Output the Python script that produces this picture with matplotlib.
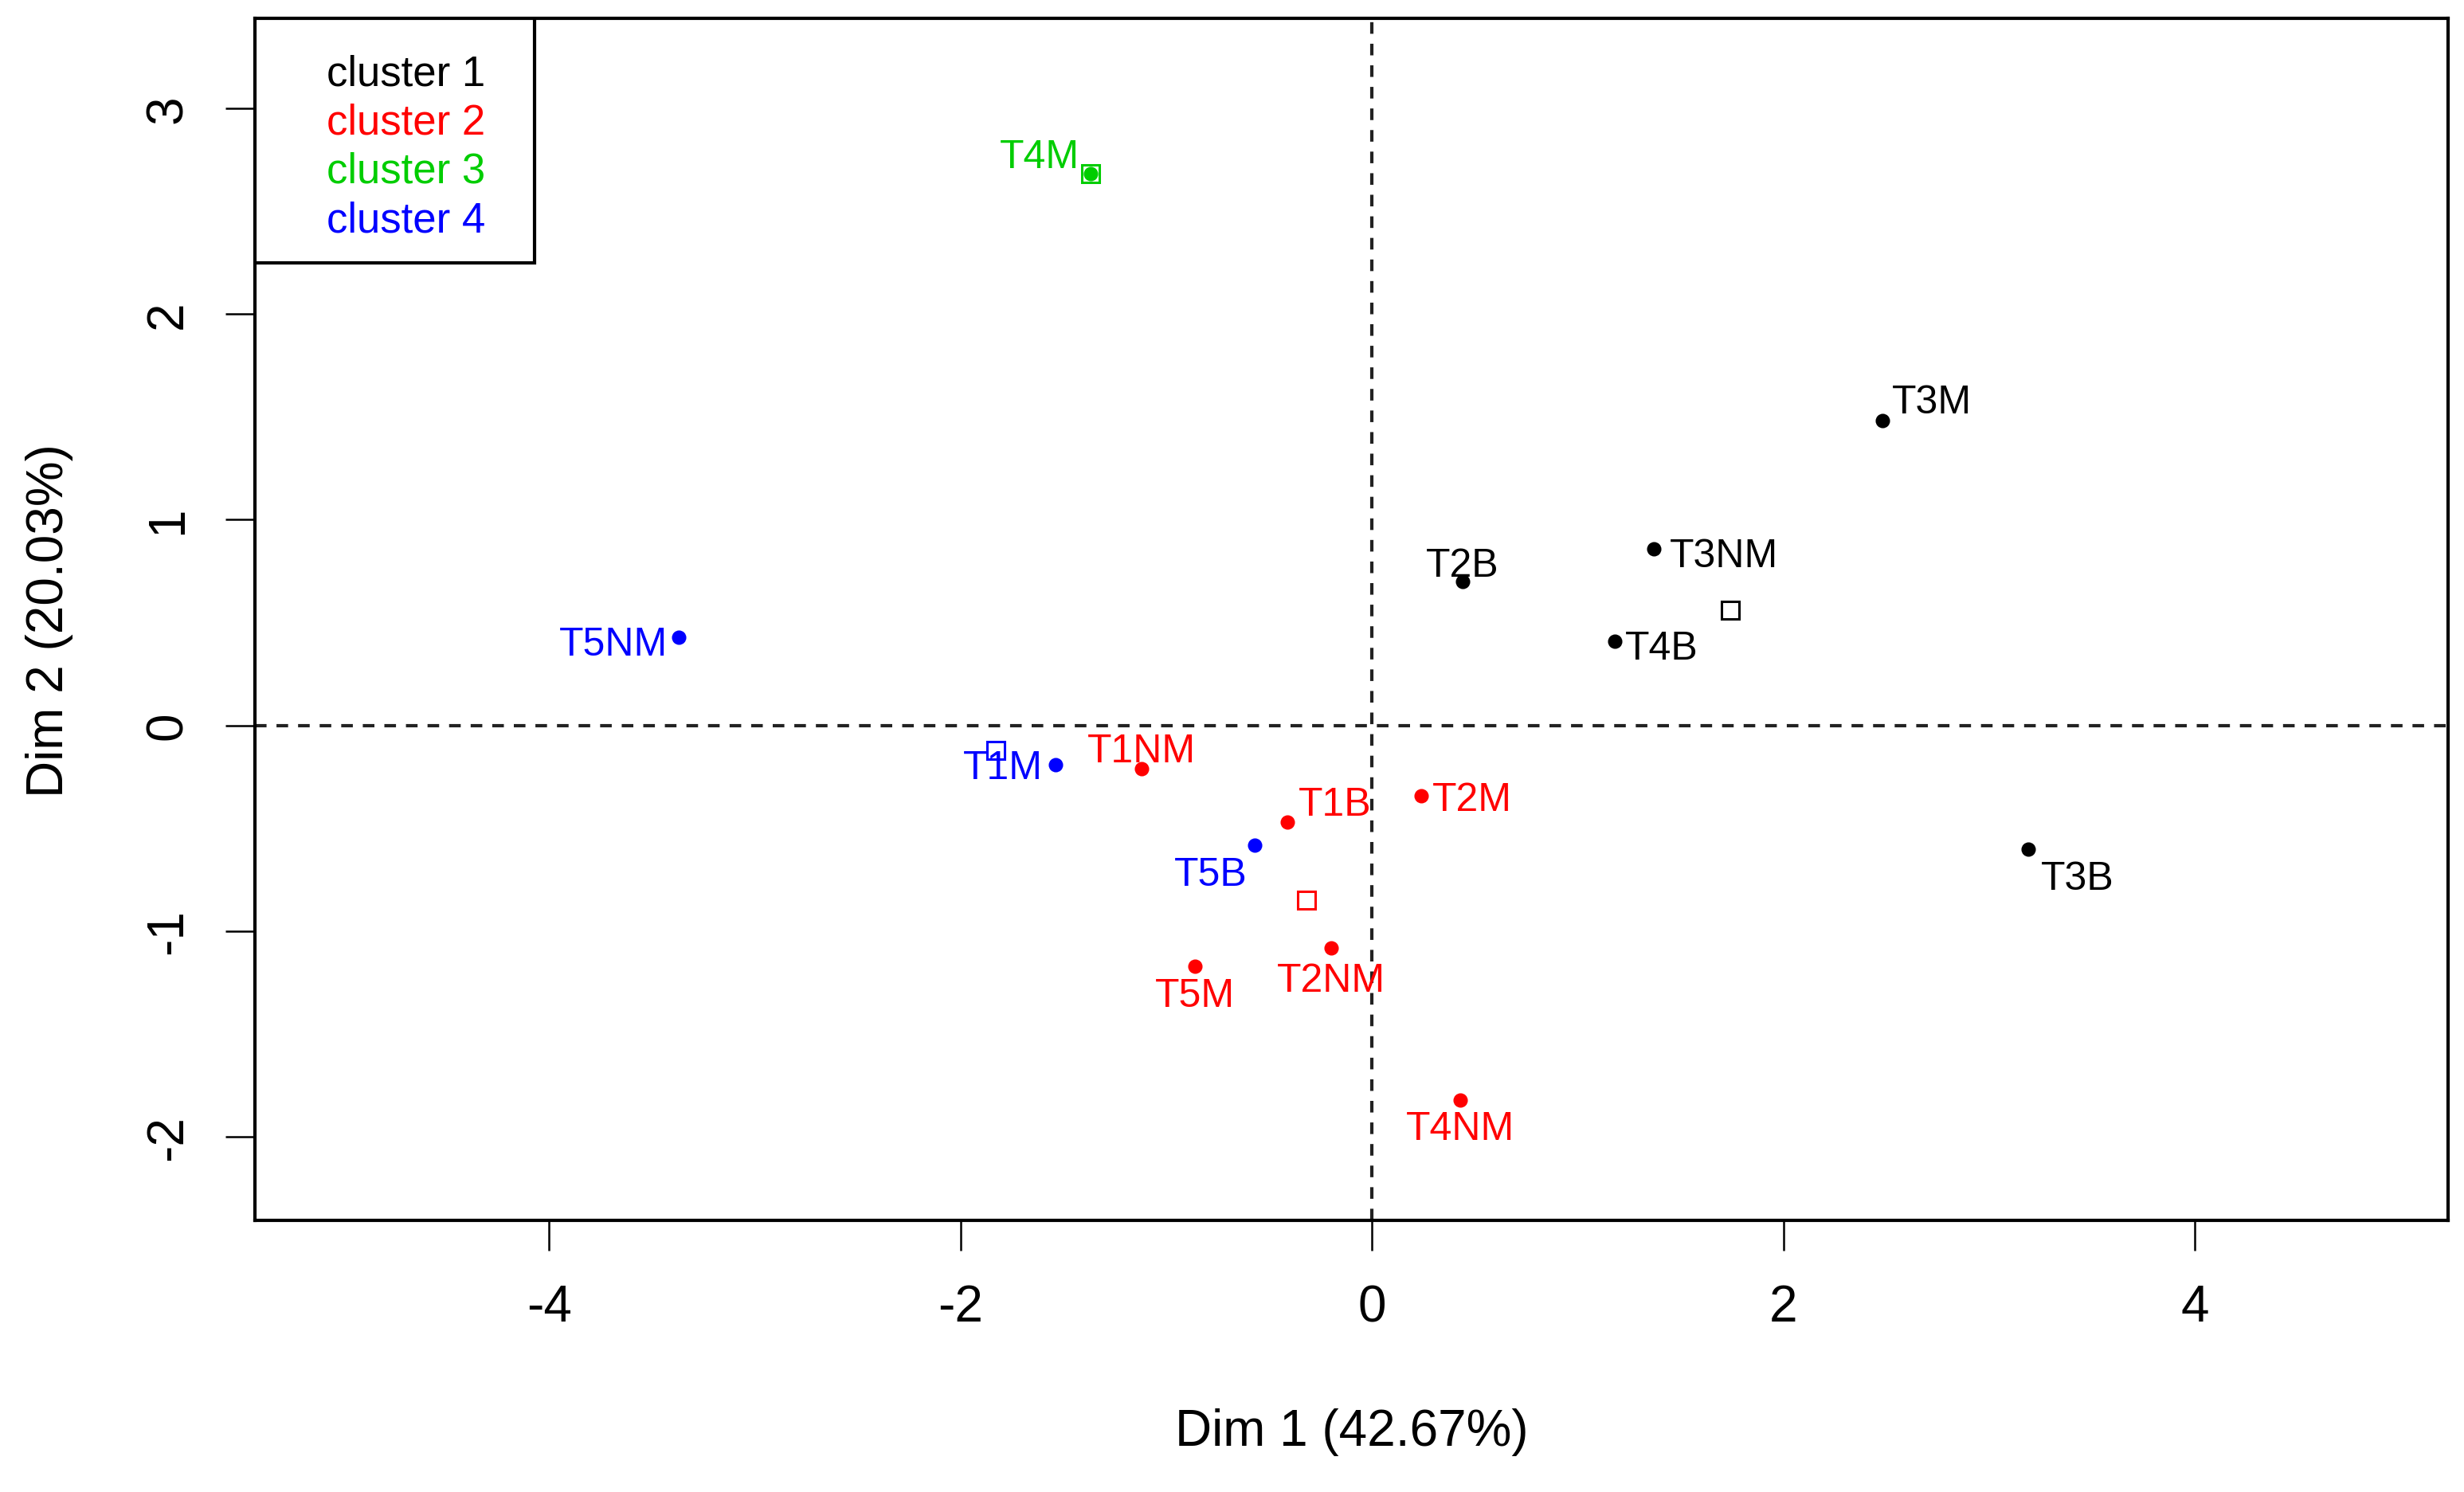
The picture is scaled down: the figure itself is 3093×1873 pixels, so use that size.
import matplotlib
matplotlib.use('Agg')
import matplotlib.pyplot as plt
from matplotlib.patches import Rectangle

plt.rcParams['font.family'] = ['Liberation Sans', 'DejaVu Sans']
plt.rcParams['axes.unicode_minus'] = False

# individuals: name, Dim 1, Dim 2, cluster
names = ['T3M', 'T3NM', 'T2B', 'T4B', 'T3B',
         'T1NM', 'T1B', 'T2M', 'T5M', 'T2NM', 'T4NM',
         'T4M',
         'T5NM', 'T1M', 'T5B']
dim1 = [2.48, 1.37, 0.44, 1.18, 3.19,
        -1.12, -0.41, 0.24, -0.86, -0.20, 0.43,
        -1.37,
        -3.37, -1.54, -0.57]
dim2 = [1.48, 0.86, 0.70, 0.41, -0.60,
        -0.21, -0.47, -0.34, -1.17, -1.08, -1.82,
        2.68,
        0.43, -0.19, -0.58]
cluster = [1, 1, 1, 1, 1,
           2, 2, 2, 2, 2, 2,
           3,
           4, 4, 4]

# cluster centres
centre_x = [1.74, -0.32, -1.37, -1.83]
centre_y = [0.56, -0.85, 2.68, -0.12]

cluster_names = ['cluster 1', 'cluster 2', 'cluster 3', 'cluster 4']
colours = ['black', 'red', '#00CD00', 'blue']

# label offsets (points) and alignment, to mimic autoLab placement
offsets = {
    'T3M': (4.5, 8.5, 'left'), 'T3NM': (7, -3.5, 'left'), 'T2B': (0, 7, 'center'),
    'T4B': (4.5, -3.5, 'left'), 'T3B': (5.5, -13.5, 'left'),
    'T1NM': (0, 7.8, 'center'), 'T1B': (5, 7.8, 'left'), 'T2M': (5, -2, 'left'),
    'T5M': (0, -13.5, 'center'), 'T2NM': (0, -15, 'center'), 'T4NM': (0, -13, 'center'),
    'T4M': (-5, 7.8, 'right'),
    'T5NM': (-5, -3.5, 'right'), 'T1M': (-5.7, -1.4, 'right'), 'T5B': (-3.5, -13.5, 'right'),
}

fig = plt.figure(figsize=(15.465, 9.37), dpi=200)
ax = fig.add_axes([0.1035, 0.182, 0.89, 0.805])

ax.axhline(0, color='#222222', lw=1.5, dashes=(3.5, 3), zorder=1)
ax.axvline(0, color='#222222', lw=1.5, dashes=(3.5, 3), zorder=1)

for i, name in enumerate(names):
    c = colours[cluster[i] - 1]
    ax.plot(dim1[i], dim2[i], 'o', color=c, markersize=5.5, zorder=3)
    dx, dy, ha = offsets[name]
    ax.annotate(name, (dim1[i], dim2[i]), xytext=(dx, dy), textcoords='offset points',
                ha=ha, va='center', color=c, fontsize=18)

for k in range(4):
    ax.plot(centre_x[k], centre_y[k], 's', markerfacecolor='none',
            markeredgecolor=colours[k], markeredgewidth=1.1, markersize=8, zorder=3)

ax.set_xlim(-5.43, 5.23)
ax.set_ylim(-2.405, 3.435)
ax.set_xticks([-4, -2, 0, 2, 4])
ax.set_yticks([-2, -1, 0, 1, 2, 3])
ax.tick_params(axis='both', direction='out', length=13.5, width=0.9, labelsize=23, pad=15)
plt.setp(ax.get_yticklabels(), rotation=90, va='center')

for s in ax.spines.values():
    s.set_linewidth(1.5)

ax.set_xlabel('Dim 1 (42.67%)', fontsize=23)
ax.set_ylabel('Dim 2 (20.03%)', fontsize=23)
ax.xaxis.set_label_coords(0.5, -0.156)
ax.yaxis.set_label_coords(-0.083, 0.5)

# legend box (text only, as in the R plot)
ax.add_patch(Rectangle((0, 1), 0.1275, -0.2035, transform=ax.transAxes,
                       facecolor='white', edgecolor='black', lw=1.5, zorder=4))
for k in range(4):
    ax.text(0.0327, 0.954 - k * 0.0405, cluster_names[k], transform=ax.transAxes,
            color=colours[k], fontsize=19, va='center', ha='left', zorder=5)

fig.savefig('out.png', dpi=200)
